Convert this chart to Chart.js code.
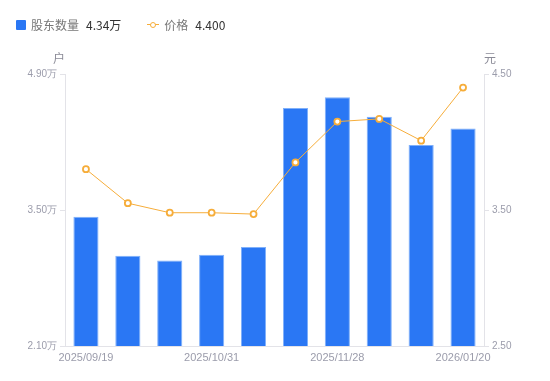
<!DOCTYPE html>
<html>
<head>
<meta charset="utf-8">
<script src="https://cdn.jsdelivr.net/npm/chart.js@4/dist/chart.umd.min.js"></script>
<style>
  html, body { margin: 0; padding: 0; background: #fff; }
  body { width: 550px; height: 381px; position: relative; overflow: hidden;
         font-family: "Noto Sans CJK SC", "Noto Sans", sans-serif; }
  #wrap { position: absolute; left: 0; top: 0; width: 550px; height: 381px; }
  #legend { position: absolute; left: 16px; top: 16px; font-size: 12px; display: flex; align-items: center; }
  .item { display: flex; align-items: center; margin-right: 26px; }
  .box { width: 10px; height: 10px; background: #2a77f4; border-radius: 1px; margin-right: 5px; }
  .lineIcon { position: relative; width: 12px; height: 10px; margin-right: 5px; }
  .lineIcon::before { content: ''; position: absolute; left: 0; right: 0; top: 4.5px; height: 1px; background: #f6ad3a; }
  .lineIcon::after { content: ''; position: absolute; left: 3px; top: 2px; width: 4px; height: 4px; border: 1.5px solid #f6ad3a; border-radius: 50%; background: #fff; }
  .name { color: #777; margin-right: 7px; }
  .val { color: #333; }
</style>
</head>
<body>
<div id="wrap"><canvas id="c" width="550" height="381"></canvas></div>
<div id="legend"></div>
<script>
const dates = ['2025/09/19', '2025/09/30', '2025/10/20', '2025/10/31', '2025/11/10', '2025/11/20',
               '2025/11/28', '2025/12/10', '2025/12/31', '2026/01/20'];
const holders = [3.43, 3.03, 2.98, 3.04, 3.12, 4.55, 4.66, 4.46, 4.17, 4.34]; // 万户
const prices = [3.80, 3.55, 3.48, 3.48, 3.47, 3.85, 4.15, 4.17, 4.01, 4.40]; // 元
const shownLabels = [0, 3, 6, 9];
const holderTicks = [2.10, 3.50, 4.90];
const priceTicks = [2.50, 3.50, 4.50];

const barColor = '#2a77f4';
const lineColor = '#f6ad3a';
const tickColor = '#9b9cab';
const axisColor = '#e3e3e8';

// legend with latest values
document.getElementById('legend').innerHTML = `
  <div class="item"><span class="box"></span><span class="name">股东数量</span><span class="val">${holders[holders.length - 1].toFixed(2)}万</span></div>
  <div class="item"><span class="lineIcon"></span><span class="name">价格</span><span class="val">${prices[prices.length - 1].toFixed(3)}</span></div>
`;

// unit labels above the y axes
const unitLabels = {
  id: 'unitLabels',
  afterDraw(chart) {
    const { ctx, chartArea } = chart;
    ctx.save();
    ctx.font = '12px "Noto Sans CJK SC", sans-serif';
    ctx.fillStyle = '#8a8a96';
    ctx.textBaseline = 'middle';
    ctx.textAlign = 'center';
    ctx.fillText('户', chartArea.left - 6, chartArea.top - 16);
    ctx.fillText('元', chartArea.right + 6, chartArea.top - 16);
    ctx.restore();
  }
};

new Chart(document.getElementById('c'), {
  data: {
    labels: dates,
    datasets: [
      {
        type: 'line',
        label: '价格',
        data: prices,
        yAxisID: 'yPrice',
        borderColor: lineColor,
        borderWidth: 1,
        pointRadius: 3,
        pointBorderWidth: 1.8,
        pointBackgroundColor: '#fff',
        pointBorderColor: lineColor,
        tension: 0,
        order: 0
      },
      {
        type: 'bar',
        label: '股东数量',
        data: holders,
        yAxisID: 'y',
        backgroundColor: barColor,
        borderColor: '#7fb0fa',
        borderWidth: { top: 1, left: 1, right: 1, bottom: 0 },
        categoryPercentage: 0.6,
        barPercentage: 1,
        order: 1
      }
    ]
  },
  options: {
    responsive: false,
    animation: false,
    layout: { padding: { top: 74, left: 0, right: 0, bottom: 0 } },
    plugins: { legend: { display: false }, tooltip: { enabled: false } },
    scales: {
      x: {
        grid: { display: false, tickLength: 4 },
        border: { color: axisColor },
        afterFit(s) { s.height = 35; },
        ticks: {
          autoSkip: false,
          maxRotation: 0,
          color: tickColor,
          font: { size: 11, family: 'Liberation Sans, Arial, sans-serif' },
          padding: 1,
          callback: (v, i) => shownLabels.includes(i) ? dates[i] : ''
        }
      },
      y: {
        position: 'left',
        min: holderTicks[0],
        max: holderTicks[holderTicks.length - 1],
        afterFit(s) { s.width = 65; },
        afterBuildTicks(s) { s.ticks = holderTicks.map(v => ({ value: v })); },
        grid: { drawOnChartArea: false, tickLength: 5, color: axisColor },
        border: { color: axisColor },
        ticks: {
          color: tickColor,
          font: { size: 10, family: 'Liberation Sans, Arial, sans-serif' },
          padding: 3,
          callback: v => v.toFixed(2) + '万'
        }
      },
      yPrice: {
        position: 'right',
        min: priceTicks[0],
        max: priceTicks[priceTicks.length - 1],
        afterFit(s) { s.width = 66; },
        afterBuildTicks(s) { s.ticks = priceTicks.map(v => ({ value: v })); },
        grid: { drawOnChartArea: false, tickLength: 5, color: axisColor },
        border: { color: axisColor },
        ticks: {
          color: tickColor,
          font: { size: 10, family: 'Liberation Sans, Arial, sans-serif' },
          padding: 3,
          callback: v => v.toFixed(2)
        }
      }
    }
  },
  plugins: [unitLabels]
});
</script>
</body>
</html>
